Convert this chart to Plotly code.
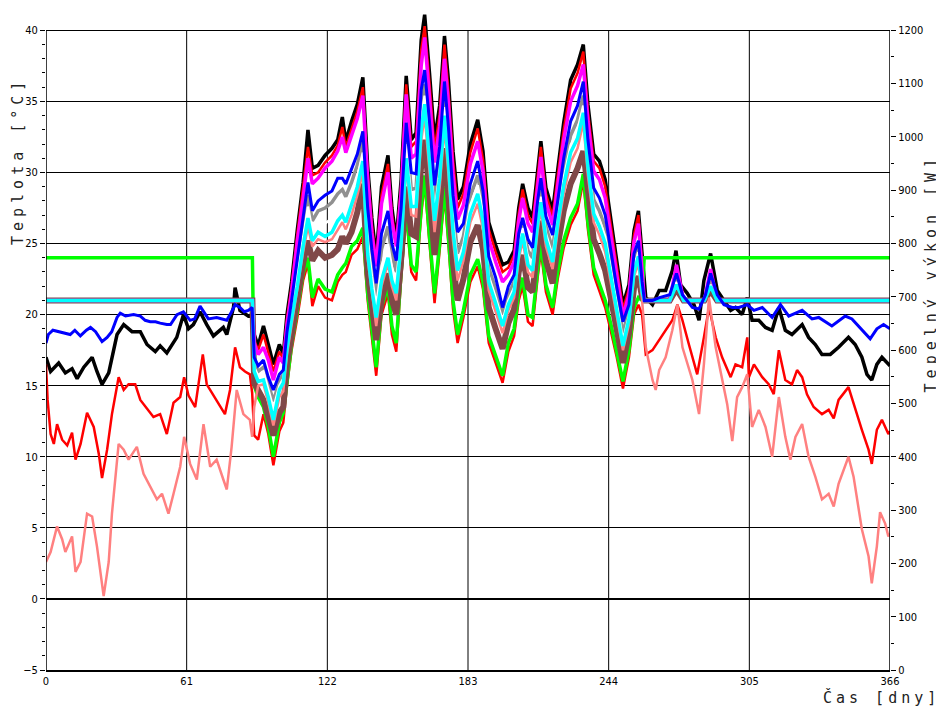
import plotly.graph_objects as go

# ---------------- Winter period 1 (days 0-89) ----------------
w1_black_days = [0, 2.0, 5.5, 8.4, 11.3, 13.5, 16.4, 20.0, 22.1, 24.3, 27.2, 30.8, 33.7, 37.3, 40.9, 43.8, 47.4, 49.5, 52.4, 56.7,
                 59.6, 61.8, 63.9, 66.8, 69.7, 72.6, 76.9, 78.4, 81.3, 82.0, 84.1, 87.7, 89.4]
w1_black = [17.0, 16.0, 16.6, 15.9, 16.2, 15.5, 16.3, 17.0, 16.0, 15.1, 15.9, 18.6, 19.3, 18.8, 18.8, 17.9, 17.4, 17.8, 17.3, 18.4,
            20.0, 19.0, 19.3, 20.2, 19.3, 18.5, 19.1, 18.6, 20.5, 21.9, 20.3, 19.9, 20.0]

w1_blue_days = [0, 1.0, 3.0, 5.5, 8.5, 10.5, 12.5, 14.9, 17.5, 19.3, 21.5, 24.3, 26.5, 28.5, 30.8, 32.2, 34.5, 38.0, 40.9, 43.0,
                45.2, 47.5, 49.5, 52.4, 54.0, 56.8, 59.6, 62.5, 64.5, 66.8, 69.2, 70.4, 74.0, 76.0, 78.4, 80.5, 82.0, 84.1, 86.0, 87.7, 89.4]
w1_blue = [18.0, 18.6, 18.9, 18.8, 18.7, 18.6, 18.9, 18.5, 18.9, 19.1, 18.8, 18.1, 18.4, 18.8, 19.8, 20.1, 19.9, 20.0, 19.9, 19.6,
           19.5, 19.5, 19.4, 19.3, 19.3, 20.0, 20.2, 19.6, 19.7, 20.6, 20.0, 19.7, 19.8, 19.7, 19.6, 20.2, 20.7, 20.5, 20.2, 20.3, 20.5]

w1_red_days = [0, 0.7, 2.0, 3.4, 4.8, 7.0, 9.2, 11.3, 12.8, 15.0, 17.8, 20.7, 22.9, 24.3, 26.5, 28.6, 31.5, 33.7, 35.8, 38.7,
               40.9, 43.8, 46.6, 49.5, 52.4, 55.3, 58.2, 59.9, 61.8, 64.7, 68.0, 69.7, 72.6, 75.5, 77.6, 79.8, 82.0, 84.1, 86.3, 88.4, 89.4]
w1_red = [16.5, 14.0, 11.6, 10.9, 12.3, 11.2, 10.8, 11.7, 9.8, 10.9, 13.1, 12.1, 10.2, 8.5, 10.5, 13.0, 15.6, 14.7, 15.1, 15.1,
          14.0, 13.4, 12.8, 13.0, 11.6, 13.8, 14.2, 15.6, 14.3, 13.5, 17.2, 15.1, 14.3, 13.5, 13.0, 14.7, 17.7, 16.3, 16.0, 15.8, 14.5]

w1_pink_days = [0, 2.0, 4.8, 7.0, 8.4, 11.3, 12.8, 15.0, 17.8, 20.0, 22.1, 25.0, 27.2, 28.6, 31.5, 33.7, 35.8, 39.4, 42.3, 45.2,
                48.1, 50.3, 53.1, 55.3, 58.2, 59.9, 62.5, 65.4, 68.3, 71.2, 74.0, 76.9, 78.4, 80.5, 82.7, 85.6, 88.4, 89.4]
w1_pink = [2.6, 3.3, 5.1, 4.2, 3.3, 4.4, 1.9, 2.6, 6.0, 5.8, 3.7, 0.2, 2.6, 6.0, 10.9, 10.5, 9.8, 10.7, 8.8, 7.9,
           7.0, 7.4, 6.0, 7.4, 9.3, 11.4, 9.5, 8.4, 12.3, 9.3, 9.8, 8.4, 7.7, 10.7, 14.7, 13.0, 12.6, 11.4]

# setpoint-type series during winter 1
sp_w1_days = [0, 89.5]
sp_w1_21 = [21.0, 21.0]
green_w1 = [24.0, 24.0]

# ---------------- Summer period (shared day grid) ----------------
s_days = [90.3, 92.0, 94.3, 96.4, 98.6, 101.2, 102.9, 104.5, 106.5, 109.0, 111.5, 113.6, 115.5, 118.0, 121.0,
          124.0, 126.5, 128.5, 130.0, 132.5, 135.0, 137.4, 139.5, 141.3, 143.2, 145.5, 148.3, 150.0, 151.9, 154.0,
          156.2, 158.4, 160.5, 162.7, 164.2, 166.3, 168.5, 170.7, 172.8, 174.5, 176.5, 178.5, 181.0, 184.0, 187.2,
          189.5, 192.0, 195.0, 198.0, 200.5, 203.0, 205.0, 206.7, 209.0, 211.0, 213.2, 214.6, 216.8, 219.7, 222.0,
          224.5, 227.5, 230.5, 233.0, 235.0, 237.5, 240.0, 242.5, 245.0, 247.5, 250.2, 252.8, 255.0, 256.9, 258.5]
s_black = [18.6, 17.8, 19.2, 17.9, 16.5, 17.9, 17.2, 20.0, 22.3, 26.0, 29.3, 33.0, 30.3, 30.5, 31.2,
           31.7, 32.3, 33.9, 32.2, 33.6, 34.8, 36.7, 30.4, 26.8, 24.0, 29.0, 31.2, 27.5, 25.3, 29.5,
           36.8, 32.3, 32.8, 39.3, 41.1, 37.0, 32.3, 34.7, 39.6, 36.5, 31.5, 28.1, 29.0, 32.0, 33.7,
           31.5, 26.5, 24.9, 23.5, 23.7, 24.5, 27.5, 29.2, 27.5, 26.8, 30.1, 32.2, 28.9, 27.3, 30.3,
           33.5, 36.5, 37.6, 39.0, 34.8, 31.3, 30.8, 29.5, 26.5, 23.8, 20.7, 22.1, 25.9, 27.3, 24.5]
s_green = [15.0, 14.2, 13.5, 12.1, 10.0, 12.4, 13.1, 15.4, 17.9, 20.3, 22.9, 24.0, 21.2, 22.5, 21.8,
           21.6, 22.8, 23.3, 23.6, 24.8, 25.2, 26.1, 21.5, 19.0, 16.3, 20.5, 22.0, 19.2, 18.0, 23.0,
           27.5, 23.5, 23.0, 27.5, 29.8, 25.5, 21.5, 25.0, 29.0, 25.5, 21.0, 18.6, 20.3, 22.8, 23.9,
           22.3, 18.5, 17.1, 15.7, 18.0, 19.0, 21.5, 22.6, 20.0, 19.8, 23.1, 25.0, 22.1, 20.5, 23.1,
           25.2, 26.8, 27.8, 29.9, 26.5, 23.3, 22.1, 21.0, 19.3, 17.5, 15.3, 17.5, 20.5, 21.2, 21.0]
s_magenta = [18.0, 17.2, 17.7, 16.8, 15.4, 17.0, 16.6, 19.3, 21.6, 25.2, 28.2, 31.0, 29.2, 29.6, 30.3,
             30.8, 31.5, 32.5, 31.4, 32.6, 33.8, 35.4, 29.5, 25.8, 23.4, 27.8, 30.0, 26.6, 24.8, 28.6,
             35.5, 31.0, 31.3, 37.5, 39.5, 35.3, 30.7, 33.2, 38.0, 34.9, 29.9, 26.7, 27.7, 30.6, 32.2,
             30.1, 25.3, 23.7, 22.3, 22.8, 23.7, 26.6, 28.2, 26.4, 25.8, 29.0, 31.1, 27.9, 26.3, 29.2,
             32.3, 35.0, 36.1, 37.6, 33.6, 30.1, 29.5, 28.2, 25.4, 22.9, 19.9, 21.4, 25.1, 26.4, 23.0]
s_blue = [17.0, 16.4, 16.8, 15.6, 14.7, 15.8, 16.1, 18.8, 21.0, 24.0, 26.8, 29.3, 27.3, 28.0, 28.4,
          28.7, 29.6, 29.6, 29.2, 30.2, 31.3, 32.9, 27.5, 24.6, 22.2, 25.7, 27.3, 25.0, 23.8, 27.5,
          33.5, 30.0, 29.9, 35.8, 37.2, 33.6, 29.1, 31.8, 36.4, 33.2, 28.4, 25.8, 26.4, 29.2, 30.8,
          28.7, 24.1, 22.6, 20.5, 22.0, 22.8, 25.7, 26.8, 25.3, 24.7, 28.0, 29.6, 26.9, 25.6, 28.1,
          31.0, 33.6, 34.7, 36.4, 32.3, 28.9, 28.2, 27.0, 24.3, 21.9, 19.5, 20.7, 24.3, 25.2, 22.3]
s_gray = [16.6, 16.0, 16.3, 15.1, 13.9, 15.3, 15.8, 18.2, 20.6, 23.3, 26.0, 28.4, 26.6, 27.3, 27.5,
          27.9, 28.5, 28.8, 28.3, 29.3, 30.5, 32.2, 26.2, 23.5, 21.3, 24.6, 26.2, 24.2, 23.0, 26.6,
          32.8, 28.8, 28.9, 34.6, 36.2, 32.4, 28.0, 30.8, 35.4, 32.1, 27.3, 24.3, 25.5, 28.3, 29.8,
          27.8, 23.3, 21.8, 20.0, 21.4, 22.3, 25.1, 26.3, 24.5, 24.0, 27.3, 28.8, 26.2, 24.6, 27.4,
          30.2, 32.6, 33.7, 35.4, 31.5, 28.1, 27.3, 26.1, 23.6, 21.3, 18.7, 20.3, 23.7, 24.9, 22.0]
s_white = [16.3, 15.7, 16.0, 14.7, 13.4, 15.0, 15.5, 17.8, 20.2, 22.8, 25.4, 27.6, 25.9, 26.5, 26.4,
           26.8, 27.4, 27.8, 27.3, 28.5, 29.7, 31.4, 25.3, 22.7, 20.6, 23.4, 25.0, 23.3, 22.3, 25.8,
           32.0, 28.2, 28.2, 33.8, 35.4, 31.6, 27.2, 30.1, 34.6, 31.3, 26.6, 23.6, 24.9, 27.7, 29.1,
           27.2, 22.7, 21.2, 19.6, 21.0, 21.9, 24.7, 26.1, 24.0, 23.5, 26.8, 28.3, 25.7, 24.1, 26.9,
           29.6, 31.9, 33.0, 34.7, 30.9, 27.5, 26.7, 25.5, 23.1, 20.8, 18.2, 19.9, 23.4, 24.4, 21.8]
s_cyan = [16.0, 15.3, 15.4, 14.2, 12.6, 14.7, 15.2, 17.6, 19.7, 22.0, 24.8, 26.8, 25.2, 25.8, 25.5,
          25.8, 26.6, 27.0, 26.5, 27.7, 29.0, 30.8, 24.3, 21.8, 19.8, 22.4, 24.0, 22.4, 21.5, 25.0,
          31.0, 27.6, 27.6, 33.0, 34.8, 30.9, 26.6, 29.6, 34.0, 30.7, 25.9, 23.1, 24.4, 27.1, 28.5,
          26.6, 22.3, 20.8, 19.2, 20.7, 21.6, 24.3, 25.7, 23.5, 23.1, 26.4, 27.9, 25.3, 23.7, 26.5,
          29.1, 31.4, 32.4, 34.2, 30.4, 27.1, 26.2, 25.0, 22.7, 20.5, 17.8, 19.7, 23.0, 24.1, 21.6]
s_pink = [13.5, 15.0, 15.1, 13.8, 12.2, 14.2, 14.6, 17.2, 19.3, 21.6, 24.4, 26.2, 24.8, 25.3, 25.1,
          25.3, 26.0, 26.5, 26.0, 27.0, 28.4, 30.0, 23.9, 21.4, 19.2, 22.0, 23.6, 22.0, 21.0, 24.6,
          30.5, 27.0, 26.9, 32.2, 34.0, 30.1, 25.8, 28.9, 33.2, 29.9, 25.2, 22.4, 23.8, 26.5, 27.8,
          26.0, 21.7, 20.2, 18.7, 20.3, 21.2, 23.9, 25.2, 23.0, 22.6, 25.9, 27.4, 24.8, 23.2, 26.0,
          28.5, 30.7, 31.7, 33.5, 29.8, 26.5, 25.6, 24.4, 22.2, 20.0, 17.5, 19.3, 22.7, 23.6, 21.0]
s_brown = [15.2, 14.6, 14.0, 12.8, 11.5, 13.1, 13.5, 16.5, 18.3, 21.1, 23.6, 25.2, 23.8, 24.5, 24.0,
           24.2, 24.6, 25.5, 25.0, 25.8, 27.2, 29.2, 22.9, 20.6, 18.2, 21.0, 22.9, 21.0, 20.0, 23.9,
           29.0, 25.7, 25.5, 30.5, 32.3, 28.4, 24.2, 27.4, 31.7, 28.3, 23.6, 21.0, 22.5, 25.1, 26.3,
           24.6, 20.5, 19.0, 17.6, 19.4, 20.4, 23.0, 24.2, 21.9, 21.6, 24.9, 26.6, 23.8, 22.2, 24.9,
           27.3, 29.2, 30.3, 31.5, 28.6, 25.3, 24.3, 23.1, 21.1, 19.1, 16.6, 18.7, 21.9, 22.7, 21.2]
s_red_hi = [18.2, 17.5, 18.6, 17.4, 16.0, 17.4, 16.9, 19.7, 22.0, 25.7, 28.8, 31.8, 29.8, 30.0, 30.7,
            31.2, 31.9, 33.2, 31.8, 33.0, 34.3, 36.0, 30.0, 26.3, 23.6, 28.4, 30.6, 27.0, 25.0, 29.0,
            36.2, 31.8, 32.2, 38.6, 40.3, 36.3, 31.6, 34.1, 39.0, 35.8, 30.9, 27.5, 28.5, 31.4, 33.1,
            30.9, 26.0, 24.4, 23.0, 23.3, 24.2, 27.1, 28.8, 27.0, 26.4, 29.7, 31.8, 28.5, 26.9, 29.9,
            33.0, 35.9, 37.0, 38.5, 34.3, 30.8, 30.3, 29.0, 26.1, 23.4, 20.4, 21.8, 25.6, 27.0, 23.5]
s_red_lo = [11.5, 11.2, 13.0, 11.6, 9.4, 11.8, 12.4, 15.0, 17.5, 19.8, 22.4, 23.6, 20.6, 22.0, 21.2,
            21.0, 22.3, 22.8, 23.0, 24.2, 24.6, 25.5, 21.0, 18.4, 15.7, 20.0, 21.5, 18.6, 17.4, 22.5,
            27.0, 23.0, 22.4, 27.0, 29.3, 25.0, 20.8, 24.5, 28.4, 25.0, 20.4, 18.0, 19.8, 22.3, 23.4,
            21.8, 18.0, 16.6, 15.2, 17.4, 18.5, 21.0, 22.0, 19.5, 19.2, 22.6, 24.5, 21.6, 20.0, 22.6,
            24.7, 26.3, 27.3, 29.4, 26.0, 22.8, 21.6, 20.5, 18.8, 17.0, 14.8, 17.0, 20.0, 20.7, 20.0]

# ---------------- Winter period 2 (days 259-366) ----------------
w2_black_days = [260.1, 263.0, 265.9, 268.7, 271.6, 273.2, 275.2, 278.1, 281.0, 283.2, 285.3, 288.2, 291.1, 294.0, 296.9,
                 299.0, 301.9, 304.1, 306.2, 309.1, 312.0, 314.9, 317.8, 320.6, 323.5, 327.9, 330.7, 333.6, 336.5, 340.1,
                 343.7, 348.0, 350.9, 353.8, 356.0, 358.1, 360.3, 362.5, 365.3, 366.0]
w2_black = [21.2, 20.7, 21.7, 21.7, 23.1, 24.5, 22.1, 21.5, 20.7, 19.6, 22.4, 24.3, 21.7, 21.0, 20.3,
            20.5, 20.0, 21.2, 19.6, 19.6, 19.1, 18.9, 20.5, 18.9, 18.6, 19.3, 18.4, 17.9, 17.2, 17.2,
            17.7, 18.4, 17.9, 17.0, 15.8, 15.4, 16.5, 17.0, 16.5, 16.4]

w2_blue_days = [259.5, 263.0, 266.0, 270.5, 273.4, 276.0, 280.3, 283.2, 286.0, 288.2, 291.1, 294.0, 297.6, 300.5, 304.1,
                307.0, 310.6, 314.9, 318.5, 322.1, 327.9, 332.2, 335.1, 340.8, 346.6, 349.5, 353.8, 357.4, 360.3, 363.2, 366.0]
w2_blue = [21.0, 21.0, 21.2, 21.4, 22.9, 21.4, 20.5, 20.4, 21.4, 22.9, 21.4, 20.7, 20.5, 20.5, 20.7,
           20.3, 20.5, 19.8, 20.7, 19.9, 20.3, 19.7, 19.8, 19.2, 19.9, 19.7, 18.9, 18.3, 19.0, 19.3, 19.0]

w2_red_days = [260.1, 263.0, 265.9, 268.7, 271.6, 273.8, 276.0, 278.8, 282.4, 285.3, 287.5, 290.4, 293.2, 296.9, 299.0,
               301.9, 304.1, 304.8, 307.0, 310.6, 313.4, 315.6, 317.8, 320.6, 323.5, 325.7, 327.9, 330.0, 332.9, 336.5,
               339.4, 341.6, 343.7, 348.0, 350.2, 353.8, 356.7, 358.1, 360.3, 362.5, 365.3, 366.0]
w2_red = [17.2, 17.5, 18.2, 18.9, 19.6, 20.7, 19.6, 17.9, 15.8, 18.4, 20.5, 18.4, 17.0, 15.6, 16.5,
          16.3, 18.4, 15.6, 16.5, 15.6, 15.1, 14.4, 17.5, 15.4, 15.1, 16.1, 15.6, 14.4, 13.5, 13.0,
          13.3, 12.7, 14.0, 14.9, 13.7, 11.9, 10.5, 9.5, 11.9, 12.6, 11.6, 11.8]

w2_pink_days = [260.1, 263.0, 264.4, 265.9, 268.7, 271.6, 273.8, 276.0, 280.3, 283.2, 285.3, 287.5, 290.4, 293.2, 295.4,
                297.6, 299.7, 301.9, 304.1, 306.2, 309.1, 312.0, 314.9, 317.8, 320.6, 322.8, 325.0, 327.9, 330.7, 333.6,
                336.5, 339.4, 341.6, 343.7, 348.0, 350.2, 353.8, 356.7, 358.1, 360.3, 361.7, 363.9, 365.3, 366.0]
w2_pink = [17.7, 15.4, 14.7, 16.1, 17.0, 18.9, 20.7, 17.7, 15.4, 13.0, 16.5, 21.2, 17.7, 15.4, 13.7,
           11.1, 14.2, 14.9, 15.8, 12.1, 13.3, 12.1, 10.0, 14.2, 11.4, 9.8, 11.4, 12.3, 10.0, 8.6,
           7.0, 7.4, 6.5, 8.1, 10.0, 8.6, 4.9, 3.0, 1.1, 3.7, 6.1, 5.3, 4.4, 4.6]

sp_w2_days = [259.5, 270.5, 273.4, 276.5, 285.5, 288.2, 291.0, 366.0]
magenta_w2 = [21.0, 21.0, 23.5, 21.0, 21.0, 23.2, 21.0, 21.0]
gray_w2 = [21.0, 21.0, 22.6, 21.0, 21.0, 22.4, 21.0, 21.0]
white_w2 = [21.0, 21.0, 22.3, 21.0, 21.0, 22.1, 21.0, 21.0]
cyan_w2 = [21.0, 21.0, 22.1, 21.0, 21.0, 22.0, 21.0, 21.0]
brown_w2 = [21.0, 21.0, 21.8, 21.0, 21.0, 21.7, 21.0, 21.0]
green_w2_days = [259.4, 366.0]
green_w2 = [24.0, 24.0]

# axis ticks / ranges
x_ticks = [0, 61, 122, 183, 244, 305, 366]
temp_min, temp_max, temp_top = -5, 40, 41.5      # temp_top leaves room for peaks above the frame
power_max = 1200

# ---------------- figure ----------------
fig = go.Figure()


def add(x, y, color, width):
    fig.add_trace(go.Scatter(x=x, y=y, mode="lines", line=dict(color=color, width=width),
                             showlegend=False, hoverinfo="skip"))


add(w1_black_days + s_days + w2_black_days, w1_black + s_black + w2_black, "#000000", 3.5)
add(w1_red_days + s_days + w2_red_days, w1_red + s_red_lo + w2_red, "#ff0000", 2.5)
add(s_days, s_red_hi, "#ff0000", 2.5)
add(sp_w1_days + s_days + green_w2_days, green_w1 + s_green + green_w2, "#00ff00", 3.5)
add(sp_w1_days + s_days + sp_w2_days, sp_w1_21 + s_brown + brown_w2, "#804848", 6)
add(w1_pink_days + s_days + w2_pink_days, w1_pink + s_pink + w2_pink, "#ff8080", 2.5)
add(sp_w1_days + s_days + sp_w2_days, sp_w1_21 + s_gray + gray_w2, "#909090", 3.5)
add(sp_w1_days + s_days + sp_w2_days, sp_w1_21 + s_white + white_w2, "#ffffff", 2.5)
add(sp_w1_days + s_days + sp_w2_days, sp_w1_21 + s_magenta + magenta_w2, "#ff00ff", 3.5)
add(sp_w1_days + s_days + sp_w2_days, sp_w1_21 + s_cyan + cyan_w2, "#00ffff", 3.5)
add(w1_blue_days + s_days + w2_blue_days, w1_blue + s_blue + w2_blue, "#0000ff", 3)

# invisible trace so the power axis is drawn
fig.add_trace(go.Scatter(x=[0], y=[0], yaxis="y2", mode="markers", marker=dict(opacity=0),
                         showlegend=False, hoverinfo="skip"))

tick_font = dict(family="Liberation Sans Narrow, DejaVu Sans Condensed, Arial Narrow, sans-serif",
                 size=11, color="black")
title_font = dict(family="DejaVu Sans Mono, monospace", size=15, color="#222222")

span = temp_top - temp_min

# frame lines and vertical grid lines, limited to the temperature range
shapes = [
    dict(type="line", xref="x", yref="y", x0=0, x1=0, y0=temp_min, y1=temp_max,
         line=dict(color="black", width=1.5)),
    dict(type="line", xref="x", yref="y", x0=366, x1=366, y0=temp_min, y1=temp_max,
         line=dict(color="black", width=1.5)),
]
for xv in x_ticks[1:-1]:
    shapes.append(dict(type="line", xref="x", yref="y", x0=xv, x1=xv, y0=temp_min, y1=temp_max,
                       layer="below", line=dict(color="black", width=1)))

fig.update_layout(
    width=936, height=701,
    margin=dict(l=38, r=54, t=0.67, b=39),
    paper_bgcolor="white", plot_bgcolor="white",
    xaxis=dict(range=[0, 366], tickvals=x_ticks, ticktext=[str(v) for v in x_ticks],
               showgrid=False, showline=True, linecolor="black",
               linewidth=1.5, mirror=False, ticks="", zeroline=False, tickfont=tick_font),
    yaxis=dict(range=[temp_min, temp_top], tick0=0, dtick=5, showgrid=True, gridcolor="black",
               gridwidth=1, showline=False, ticks="outside", ticklen=5,
               tickcolor="black", tickfont=tick_font, zeroline=True, zerolinecolor="black",
               zerolinewidth=2,
               minor=dict(tickmode="array", tickvals=list(range(temp_min, temp_max + 1)),
                          ticks="outside", ticklen=3, tickcolor="black", showgrid=False)),
    yaxis2=dict(range=[0, power_max * span / (temp_max - temp_min)], dtick=100, overlaying="y",
                side="right", showgrid=False, showline=False, ticks="outside", ticklen=5,
                tickcolor="black", tickfont=tick_font, zeroline=False,
                minor=dict(tickmode="array", tickvals=list(range(0, power_max + 1, 50)),
                           ticks="outside", ticklen=3, tickcolor="black", showgrid=False)),
    shapes=shapes,
    annotations=[
        dict(text='<span style="letter-spacing:5px">Teplota [°C]</span>', xref="paper", yref="paper",
             x=-0.0332, y=0.770, textangle=-90, showarrow=False, font=title_font,
             xanchor="center", yanchor="middle"),
        dict(text='<span style="letter-spacing:5px">Tepelný výkon [W]</span>', xref="paper", yref="paper",
             x=1.0486, y=0.600, textangle=-90, showarrow=False, font=title_font,
             xanchor="center", yanchor="middle"),
        dict(text='<span style="letter-spacing:4px">Čas [dny]</span>', xref="paper", yref="paper",
             x=1.062, y=-0.041, showarrow=False, font=title_font,
             xanchor="right", yanchor="middle"),
    ],
)

fig.write_html("out.html")
